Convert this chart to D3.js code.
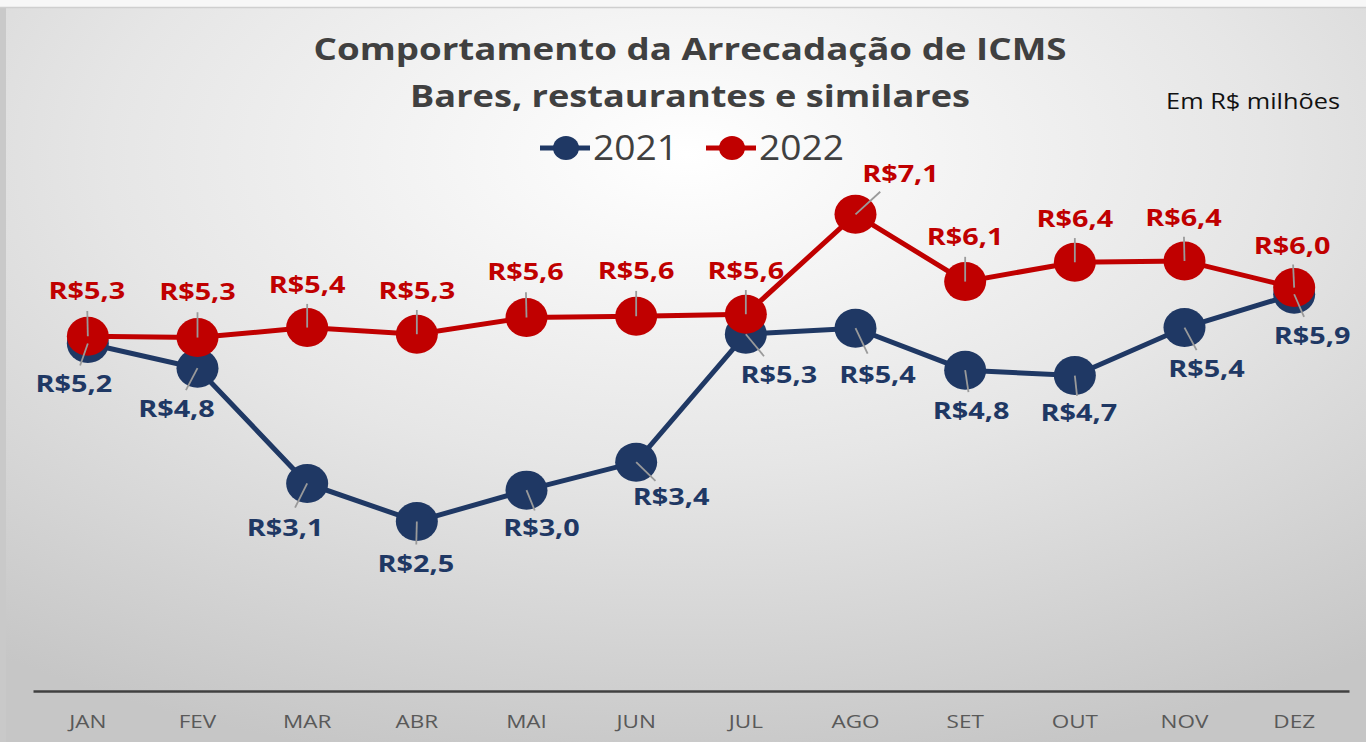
<!DOCTYPE html>
<html>
<head>
<meta charset="utf-8">
<script src="https://cdn.jsdelivr.net/npm/d3@7"></script>
<style>
  body { margin: 0; background: #fff; }
  svg { display: block; }
</style>
</head>
<body>
<div id="chart"></div>
<script>
var svgWidth = 1366;
var svgHeight = 742;

// data (R$ milhões)
var months = ['JAN', 'FEV', 'MAR', 'ABR', 'MAI', 'JUN', 'JUL', 'AGO', 'SET', 'OUT', 'NOV', 'DEZ'];
var values2021 = [5.20, 4.83, 3.10, 2.53, 3.00, 3.42, 5.34, 5.43, 4.80, 4.72, 5.44, 5.94];
var values2022 = [5.31, 5.29, 5.44, 5.34, 5.59, 5.61, 5.64, 7.14, 6.13, 6.42, 6.44, 6.04];

// label nudges (layout only), [dx, dy] from the point
var nudge2021 = [[-14, 40], [-21, 40], [-22, 44], [-1, 42], [15, 37], [35, 34], [33, 40], [22, 46], [6, 40], [4, 37], [22, 41], [18, 41]];
var nudge2022 = [[-1, -46], [0, -46], [0, -43], [0, -44], [-1, -46], [0, -46], [0, -44], [45, -41], [0, -45], [0, -44], [-1, -44], [-2, -42]];

var blue = '#1f3864';
var red = '#c00000';
var font = '"Open Sans", "Noto Sans", sans-serif';

var svg = d3.select('#chart').append('svg')
  .attr('width', svgWidth)
  .attr('height', svgHeight);

// widen text the way the reference is widened
function stretch(sel, k) {
  sel.each(function() {
    var len = this.getComputedTextLength();
    d3.select(this).attr('textLength', len * k).attr('lengthAdjust', 'spacingAndGlyphs');
  });
}

var defs = svg.append('defs');
var grad = defs.append('radialGradient')
  .attr('id', 'bg')
  .attr('cx', '50%').attr('cy', '20%')
  .attr('r', '85%');
grad.append('stop').attr('offset', '0%').attr('stop-color', '#ffffff');
grad.append('stop').attr('offset', '50%').attr('stop-color', '#e6e6e6');
grad.append('stop').attr('offset', '100%').attr('stop-color', '#c6c6c6');

svg.append('rect').attr('width', svgWidth).attr('height', svgHeight).attr('fill', '#f7f7f7');
svg.append('rect').attr('x', 0).attr('y', 7).attr('width', 6).attr('height', svgHeight - 7).attr('fill', '#c9c9c9');
svg.append('rect')
  .attr('x', 6).attr('y', 8)
  .attr('width', svgWidth - 6).attr('height', svgHeight - 8)
  .attr('fill', 'url(#bg)');
svg.append('line')
  .attr('x1', 0).attr('x2', svgWidth).attr('y1', 7.5).attr('y2', 7.5)
  .attr('stroke', '#cfcfcf').attr('stroke-width', 1.5);

// scales
var xScale = d3.scaleBand().domain(months).range([33, 1349]);
var yScale = d3.scaleLinear().domain([0, 8]).range([690, 157]);
var cx = function(i) { return xScale(months[i]) + xScale.bandwidth() / 2; };

// x axis
var xAxis = svg.append('g')
  .attr('transform', 'translate(0, 691)')
  .call(d3.axisBottom(xScale).tickSize(0).tickPadding(24));
xAxis.select('.domain').attr('stroke', '#404040').attr('stroke-width', 2.5);
xAxis.selectAll('text')
  .attr('font-family', font)
  .attr('font-size', '18px')
  .attr('fill', '#595959');
stretch(xAxis.selectAll('text'), 1.25);

// title
svg.append('text')
  .attr('x', 690).attr('y', 60)
  .attr('text-anchor', 'middle')
  .attr('font-family', font)
  .attr('font-weight', 'bold')
  .attr('font-size', '31px')
  .attr('fill', '#404040')
  .attr('textLength', 753).attr('lengthAdjust', 'spacingAndGlyphs')
  .text('Comportamento da Arrecadação de ICMS');
svg.append('text')
  .attr('x', 690).attr('y', 107)
  .attr('text-anchor', 'middle')
  .attr('font-family', font)
  .attr('font-weight', 'bold')
  .attr('font-size', '31px')
  .attr('fill', '#404040')
  .attr('textLength', 560).attr('lengthAdjust', 'spacingAndGlyphs')
  .text('Bares, restaurantes e similares');

var unit = svg.append('text')
  .attr('x', 1340).attr('y', 109)
  .attr('text-anchor', 'end')
  .attr('font-family', font)
  .attr('font-size', '22px')
  .attr('fill', '#111')
  .text('Em R$ milhões');
stretch(unit, 1.15);

// legend
var legendItems = [['2021', blue, 540], ['2022', red, 706]];
legendItems.forEach(function(it) {
  var g = svg.append('g').attr('transform', 'translate(' + it[2] + ', 148)');
  g.append('line').attr('x1', 0).attr('x2', 50).attr('stroke', it[1]).attr('stroke-width', 5);
  g.append('ellipse').attr('cx', 26).attr('rx', 13).attr('ry', 12).attr('fill', it[1]);
  g.append('text')
    .attr('x', 53).attr('y', 12)
    .attr('font-family', font)
    .attr('font-size', '34px')
    .attr('fill', '#404040')
    .attr('textLength', 85).attr('lengthAdjust', 'spacingAndGlyphs')
    .text(it[0]);
});

var line = d3.line()
  .x(function(d, i) { return cx(i); })
  .y(function(d) { return yScale(d); });

function fmt(v) {
  return 'R$' + v.toFixed(1).replace('.', ',');
}

function drawSeries(values, color) {
  svg.append('path')
    .datum(values)
    .attr('d', line)
    .attr('fill', 'none')
    .attr('stroke', color)
    .attr('stroke-width', 5);
  svg.append('g').selectAll('ellipse')
    .data(values)
    .enter()
    .append('ellipse')
    .attr('cx', function(d, i) { return cx(i); })
    .attr('cy', function(d) { return yScale(d); })
    .attr('rx', 21)
    .attr('ry', 19.5)
    .attr('fill', color);
}

function drawLabels(values, nudge, color) {
  svg.append('g').selectAll('line')
    .data(values)
    .enter()
    .append('line')
    .attr('x1', function(d, i) { return cx(i); })
    .attr('y1', function(d) { return yScale(d); })
    .attr('x2', function(d, i) { return cx(i) + nudge[i][0] * 0.55; })
    .attr('y2', function(d, i) { return yScale(d) + nudge[i][1] * 0.55; })
    .attr('stroke', '#9a9a9a')
    .attr('stroke-width', 1.8);
  var labels = svg.append('g').selectAll('text')
    .data(values)
    .enter()
    .append('text')
    .attr('x', function(d, i) { return cx(i) + nudge[i][0]; })
    .attr('y', function(d, i) { return yScale(d) + nudge[i][1]; })
    .attr('dy', '0.36em')
    .attr('text-anchor', 'middle')
    .attr('font-family', font)
    .attr('font-weight', 'bold')
    .attr('font-size', '24px')
    .attr('fill', color)
    .text(function(d) { return fmt(d); });
  stretch(labels, 1.2);
}

drawSeries(values2021, blue);
drawSeries(values2022, red);
drawLabels(values2021, nudge2021, blue);
drawLabels(values2022, nudge2022, red);
</script>
</body>
</html>
